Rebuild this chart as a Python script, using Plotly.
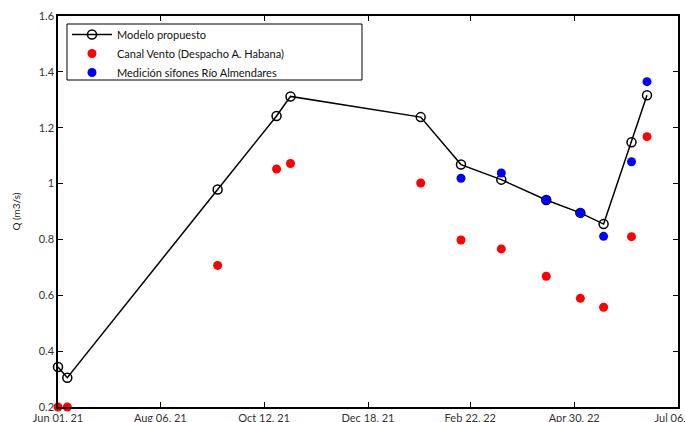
import plotly.graph_objects as go

# --- data ---
model_dates = ["2021-06-01", "2021-06-07", "2021-09-12", "2021-10-20", "2021-10-29",
               "2022-01-21", "2022-02-16", "2022-03-14", "2022-04-12", "2022-05-04",
               "2022-05-19", "2022-06-06", "2022-06-16"]
model_q = [0.343, 0.305, 0.979, 1.242, 1.312, 1.238, 1.068, 1.014, 0.941, 0.895,
           0.855, 1.148, 1.316]

vento_dates = ["2021-06-01", "2021-06-07", "2021-09-12", "2021-10-20", "2021-10-29",
               "2022-01-21", "2022-02-16", "2022-03-14", "2022-04-12", "2022-05-04",
               "2022-05-19", "2022-06-06", "2022-06-16"]
vento_q = [0.2, 0.2, 0.707, 1.052, 1.072, 1.002, 0.798, 0.766, 0.668, 0.589,
           0.557, 0.81, 1.168]

sifon_dates = ["2022-02-16", "2022-03-14", "2022-04-12", "2022-05-04", "2022-05-19",
               "2022-06-06", "2022-06-16"]
sifon_q = [1.019, 1.038, 0.942, 0.896, 0.811, 1.078, 1.365]

x_tick_vals = ["2021-06-01", "2021-08-06", "2021-10-12", "2021-12-18",
               "2022-02-22", "2022-04-30", "2022-07-06"]
x_tick_text = ["Jun 01, 21", "Aug 06, 21", "Oct 12, 21", "Dec 18, 21",
               "Feb 22, 22", "Apr 30, 22", "Jul 06, 22"]
y_tick_vals = [0.2, 0.4, 0.6, 0.8, 1.0, 1.2, 1.4, 1.6]
y_tick_text = ["0.2", "0.4", "0.6", "0.8", "1", "1.2", "1.4", "1.6"]

FONT = "Lato, 'Open Sans', sans-serif"

fig = go.Figure()
fig.add_trace(go.Scatter(
    x=model_dates, y=model_q, mode="lines+markers", name="Modelo propuesto",
    line=dict(color="black", width=1.5),
    marker=dict(symbol="circle-open", size=9, color="black", line=dict(width=1.5)),
    cliponaxis=False,
))
fig.add_trace(go.Scatter(
    x=vento_dates, y=vento_q, mode="markers", name="Canal Vento (Despacho A. Habana)",
    marker=dict(symbol="circle", size=9, color="#ff0000"),
    cliponaxis=False,
))
fig.add_trace(go.Scatter(
    x=sifon_dates, y=sifon_q, mode="markers", name="Medición sifones Río Almendares",
    marker=dict(symbol="circle", size=9, color="#0000ff"),
    cliponaxis=False,
))

axis_common = dict(
    showline=True, linecolor="black", linewidth=1.5, mirror="allticks",
    ticks="inside", ticklen=5, tickcolor="black", tickwidth=1,
    showgrid=False, zeroline=False, automargin=False,
    ticklabeloverflow="allow",
    tickfont=dict(family=FONT, size=11, color="#333333"),
)

fig.update_layout(
    width=685, height=422,
    margin=dict(l=58, r=7, t=16, b=15),
    paper_bgcolor="white", plot_bgcolor="white",
    font=dict(family=FONT, size=11, color="#222222"),
    xaxis=dict(range=["2021-06-01", "2022-07-06"], tickmode="array",
               tickvals=x_tick_vals, ticktext=x_tick_text, **axis_common),
    yaxis=dict(range=[0.2, 1.6], tickmode="array", tickvals=y_tick_vals,
               ticktext=y_tick_text,
               title=dict(text="Q (m3/s)", font=dict(family=FONT, size=10, color="#222222"),
                          standoff=16),
               **axis_common),
    legend=dict(x=0.0145, y=0.9898, xanchor="left", yanchor="top",
                borderwidth=0, bgcolor="rgba(0,0,0,0)",
                font=dict(family=FONT, size=11, color="#111111"),
                itemwidth=40, tracegroupgap=0),
    showlegend=True,
    shapes=[dict(type="rect", xref="paper", yref="paper",
                 x0=0.0145, x1=0.4903, y0=0.8363, y1=0.9795,
                 line=dict(color="black", width=1), fillcolor="white", layer="below")],
)

fig.write_html("out.html", config={"displayModeBar": False},
               post_script="document.body.style.margin='0';")
